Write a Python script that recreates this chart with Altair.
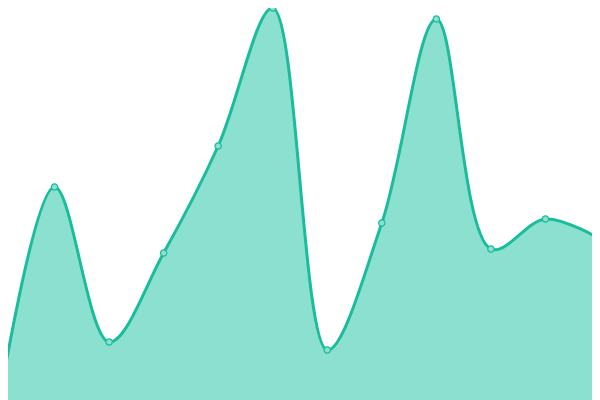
import altair as alt
import pandas as pd

idx = list(range(12))
values = [2, 213, 58, 147, 254, 392, 50, 177, 381, 151, 181, 161]

df = pd.DataFrame({"i": idx, "v": values})

step = 600 / 11
# page margin is 8px: choose domains so the visible region matches a full-bleed 600x400 chart
x = alt.X("i:Q", scale=alt.Scale(domain=[8 / step, 592 / step], nice=False, zero=False), axis=None)
y = alt.Y("v:Q", scale=alt.Scale(domain=[0, 392], nice=False), axis=None)

base = alt.Chart(df)
area = base.mark_area(interpolate="catmull-rom", color="#8be0cf", opacity=1, clip=True).encode(x=x, y=y)
line = base.mark_line(interpolate="catmull-rom", color="#1abc9c", strokeWidth=3, clip=True).encode(x=x, y=y)
pts = base.mark_point(filled=True, fill="#8be0cf", stroke="#1abc9c", strokeWidth=1.2, size=40, opacity=1).encode(x=x, y=y)

chart = (area + line + pts).properties(
    width=584, height=392,
    padding=0,
    autosize=alt.AutoSizeParams(type="none"),
).configure_view(stroke=None)

chart.save("out.html", embed_options={"renderer": "svg", "actions": False})
